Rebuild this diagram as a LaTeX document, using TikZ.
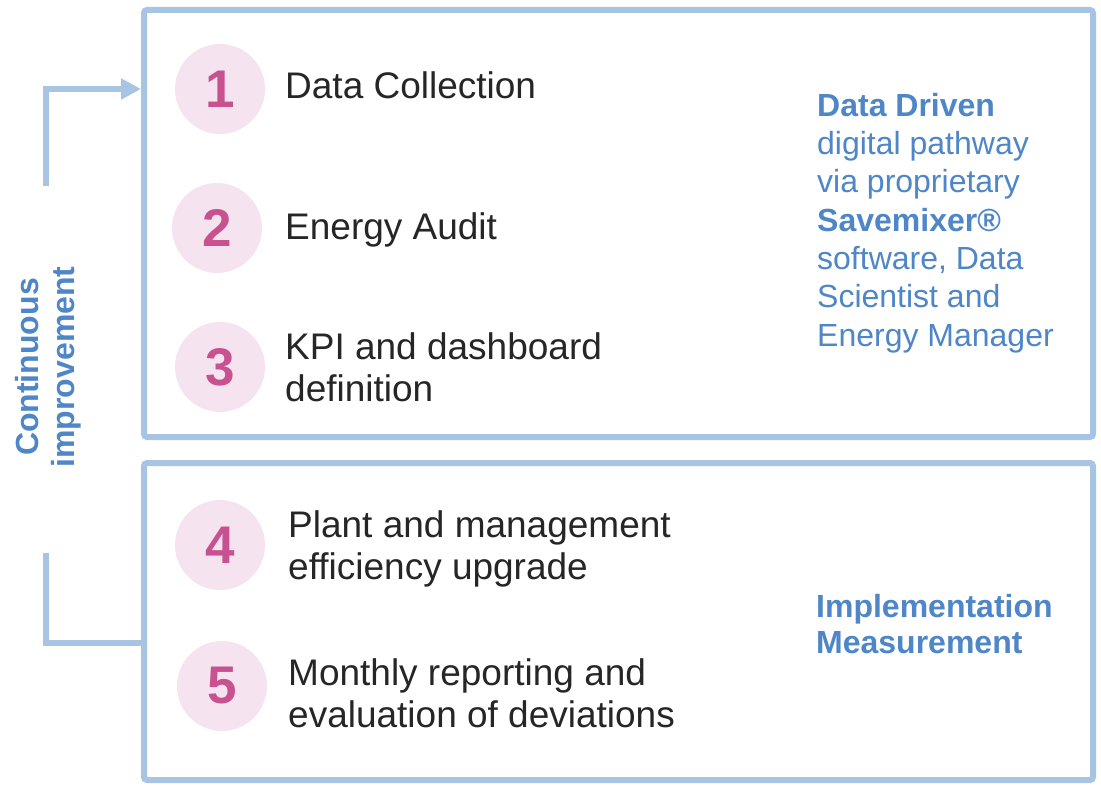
\documentclass[tikz,border=0pt]{standalone}
\usepackage{fontspec}
\setmainfont{Liberation Sans}
\usetikzlibrary{arrows.meta}
\definecolor{boxblue}{HTML}{A7C4E2}
\definecolor{txtblue}{HTML}{4E86C7}
\definecolor{pinkbg}{HTML}{F5E4EF}
\definecolor{pinknum}{HTML}{C8528F}
\definecolor{darktxt}{HTML}{262626}
\begin{document}
\begin{tikzpicture}[x=1pt,y=-1pt,
  panel/.style={draw=boxblue, line width=6pt, rounded corners=3pt, inner sep=0pt},
  numcirc/.style={circle, fill=pinkbg, minimum size=90pt, inner sep=0pt, text=pinknum,
    font=\fontsize{53}{53}\selectfont\bfseries},
  steptxt/.style={anchor=base west, inner sep=0pt, align=left, text=darktxt,
    font=\fontsize{37}{42}\selectfont},
  sidetxt/.style={anchor=base west, inner sep=0pt, align=left, text=txtblue,
    font=\fontsize{32}{38.4}\selectfont},
  conn/.style={draw=boxblue, line width=6pt}
]
\useasboundingbox (0,0) rectangle (1101,786);
\fill[white] (0,0) rectangle (1101,786);

\node[panel, minimum width=949pt, minimum height=427pt] (top) at (618.5,223.5) {};
\node[panel, minimum width=949pt, minimum height=317pt] (bot) at (618.5,621.5) {};

\node[numcirc] (c1) at (220,89) {1};
\node[numcirc] (c2) at (217,228) {2};
\node[numcirc] (c3) at (220,367) {3};
\node[numcirc] (c4) at (220,545) {4};
\node[numcirc] (c5) at (222,686) {5};

\node[steptxt] (t1) at (285,99) {Data Collection};
\node[steptxt] (t2) at (285,240) {Energy Audit};
\node[steptxt] (t3) at (285,402) {KPI and dashboard\\definition};
\node[steptxt] (t4) at (288,579) {Plant and management\\efficiency upgrade};
\node[steptxt] (t5) at (288,727) {Monthly reporting and\\evaluation of deviations};

\node[sidetxt] (s1) at (817,346.4) {\textbf{Data Driven}\\digital pathway\\via proprietary\\\textbf{Savemixer®}\\software, Data\\Scientist and\\Energy Manager};
\node[sidetxt, font=\fontsize{32}{36}\selectfont] (s2) at (816,653) {\textbf{Implementation}\\\textbf{Measurement}};

\node[rotate=90, align=center, text=txtblue, inner sep=0pt,
  font=\fontsize{32}{36}\selectfont\bfseries] (ci) at (48,367) {Continuous\\improvement};

\coordinate (a1) at (46,186);
\coordinate (b1) at (46,553);
\draw[conn, -{Triangle[length=20pt,width=20pt]}] (a1) |- (top.west |- c1);
\draw[conn] (b1) |- (bot.west |- 0,643);
\end{tikzpicture}
\end{document}
